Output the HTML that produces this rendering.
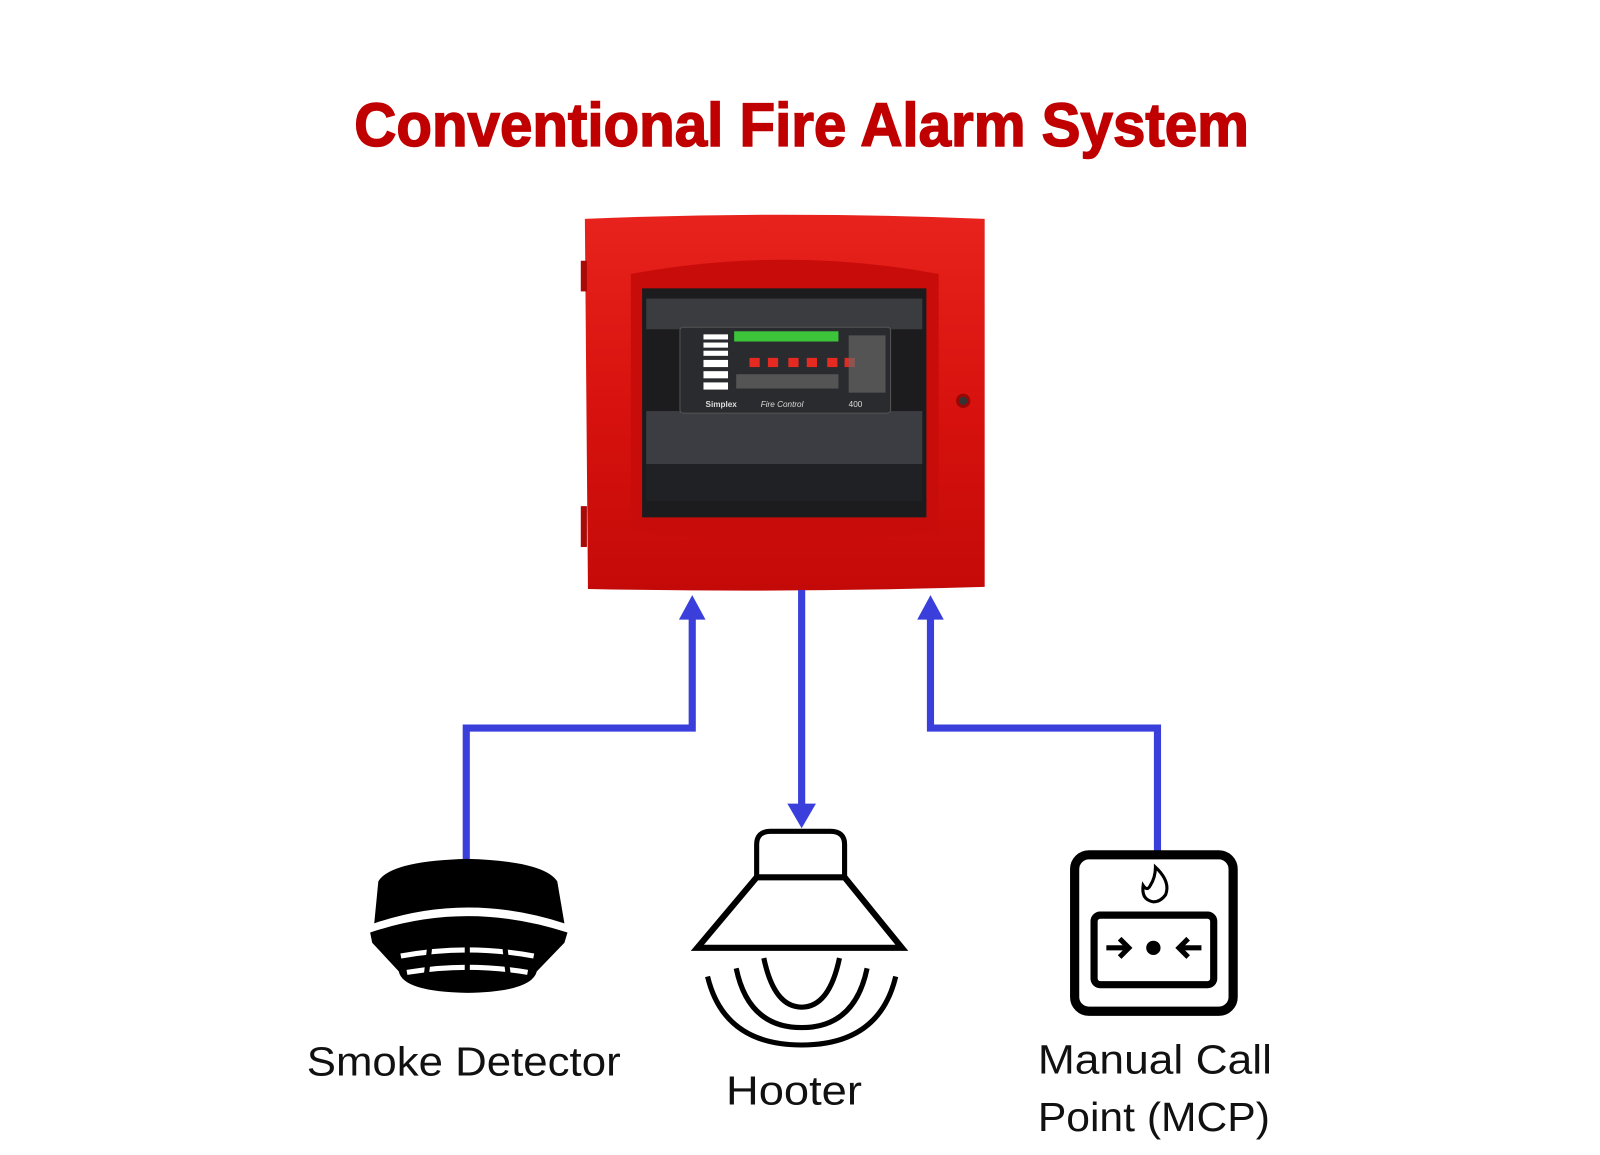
<!DOCTYPE html>
<html><head><meta charset="utf-8"><style>html,body{margin:0;padding:0;background:#fff}svg{display:block}</style></head>
<body>
<svg width="1600" height="1155" viewBox="0 0 1600 1155" xmlns="http://www.w3.org/2000/svg">
<defs>
<linearGradient id="rg" x1="0" y1="0" x2="0" y2="1"><stop offset="0" stop-color="#e8221c"/><stop offset="0.5" stop-color="#d8120e"/><stop offset="1" stop-color="#c40a08"/></linearGradient>
</defs>
<g transform="scale(1.0225)">
<text x="784" y="143" text-anchor="middle" font-family="Liberation Sans, sans-serif" font-weight="bold" font-size="60" fill="#c00000" stroke="#c00000" stroke-width="1.5" textLength="875" lengthAdjust="spacingAndGlyphs">Conventional Fire Alarm System</text>

<!-- panel -->
<path d="M572 214 Q767 206 963 214 L963 574 Q767 580 575 576 Z" fill="url(#rg)"/>
<rect x="568" y="255" width="6" height="30" fill="#a80a08"/>
<rect x="568" y="495" width="6" height="40" fill="#a80a08"/>
<path d="M617 268 Q767 240 918 268 L918 520 Q767 538 617 520 Z" fill="#c80c0a"/>
<rect x="628" y="282" width="278" height="224" fill="#1c1c1e"/>
<rect x="632" y="292" width="270" height="30" fill="#3a3c40"/>
<rect x="632" y="402" width="270" height="52" fill="#3b3d42"/>
<rect x="632" y="454" width="270" height="36" fill="#202124"/>
<rect x="665" y="320" width="206" height="84" rx="3" fill="#2a2b2e" stroke="#555" stroke-width="1"/>
<rect x="718" y="324" width="102" height="10" fill="#3cc43a"/>
<g fill="#fff"><rect x="688" y="327" width="24" height="5"/><rect x="688" y="335" width="24" height="5"/><rect x="688" y="343" width="24" height="5"/><rect x="688" y="352" width="24" height="7"/><rect x="688" y="363" width="24" height="7"/><rect x="688" y="374" width="24" height="7"/></g>
<g fill="#e52a22"><rect x="733" y="350" width="10" height="9"/><rect x="751" y="350" width="10" height="9"/><rect x="771" y="350" width="10" height="9"/><rect x="789" y="350" width="10" height="9"/><rect x="809" y="350" width="10" height="9"/><rect x="826" y="350" width="10" height="9"/></g>
<g fill="#666"><rect x="720" y="366" width="100" height="14" opacity="0.7"/><rect x="830" y="328" width="36" height="56" opacity="0.7"/></g>
<text x="690" y="398" font-family="Liberation Sans, sans-serif" font-size="8" fill="#ddd" font-weight="bold">Simplex</text>
<text x="744" y="398" font-family="Liberation Sans, sans-serif" font-size="8" fill="#ddd" font-style="italic">Fire Control</text>
<text x="830" y="398" font-family="Liberation Sans, sans-serif" font-size="8" fill="#ddd">400</text>
<circle cx="942" cy="392" r="7" fill="#9a0806"/><circle cx="942" cy="392" r="4" fill="#333"/>

<!-- connectors -->
<g fill="none" stroke="#3a3fdc" stroke-width="7">
<polyline points="456,842 456,712 677,712 677,603"/>
<polyline points="784,577 784,790"/>
<polyline points="1132,832 1132,712 910,712 910,603"/>
</g>
<g fill="#3a3fdc">
<polygon points="664,606 690,606 677,582"/>
<polygon points="897,606 923,606 910,582"/>
<polygon points="770,786 798,786 784,810"/>
</g>

<!-- smoke detector -->
<path d="M366 903 L370 862 Q382 842 457 840 Q532 842 545 862 L552 903 Q457 872 366 903 Z" fill="#000"/>
<path d="M362 912 Q457 880 555 912 L552 922 L525 950 Q520 970 457 971 Q394 970 390 950 L364 922 Z" fill="#000"/>
<g fill="none" stroke="#fff" stroke-width="5">
<path d="M392 935 Q457 923 522 935"/><path d="M398 951 Q457 941 516 951"/>
</g>
<g stroke="#000" stroke-width="5"><line x1="457" y1="925" x2="457" y2="962"/><line x1="420" y1="928" x2="416" y2="962"/><line x1="494" y1="928" x2="498" y2="962"/></g>

<!-- hooter -->
<path d="M740 858 L740 826 Q740 813 754 813 L812 813 Q826 813 826 826 L826 858 Z" fill="#fff" stroke="#000" stroke-width="5"/>
<path d="M740 858 L826 858 L882 927 L682 927 Z" fill="#fff" stroke="#000" stroke-width="6" stroke-linejoin="miter"/>
<g fill="none" stroke="#000" stroke-width="5">
<path d="M747 937 Q757 985 784 985 Q811 985 821 937"/>
<path d="M720 947 Q732 1005 784 1005 Q836 1005 848 947"/>
<path d="M692 955 Q708 1022 784 1022 Q860 1022 876 955"/>
</g>

<!-- MCP -->
<rect x="1051" y="836" width="155" height="153" rx="14" fill="#fff" stroke="#000" stroke-width="9"/>
<rect x="1070" y="895" width="117" height="68" rx="6" fill="#fff" stroke="#000" stroke-width="7"/>
<circle cx="1128" cy="927" r="7" fill="#000"/>
<g stroke="#000" stroke-width="5" fill="none"><line x1="1082" y1="927" x2="1102" y2="927"/><polyline points="1095,918 1104,927 1095,936"/><line x1="1175" y1="927" x2="1155" y2="927"/><polyline points="1162,918 1153,927 1162,936"/></g>
<path d="M1130 848 Q1145 862 1140 875 Q1135 882 1128 882 Q1116 880 1118 866 Q1122 872 1125 866 Q1130 858 1130 848 Z" fill="#fff" stroke="#000" stroke-width="3"/>

<!-- labels -->
<g font-family="Liberation Sans, DejaVu Sans, sans-serif" font-size="40" fill="#111">
<text x="300" y="1052" textLength="307" lengthAdjust="spacingAndGlyphs">Smoke Detector</text>
<text x="710" y="1080" textLength="133" lengthAdjust="spacingAndGlyphs">Hooter</text>
<text x="1015" y="1050" textLength="229" lengthAdjust="spacingAndGlyphs">Manual Call</text>
<text x="1015" y="1106" textLength="227" lengthAdjust="spacingAndGlyphs">Point (MCP)</text>
</g>
</g>
</svg>
</body></html>
